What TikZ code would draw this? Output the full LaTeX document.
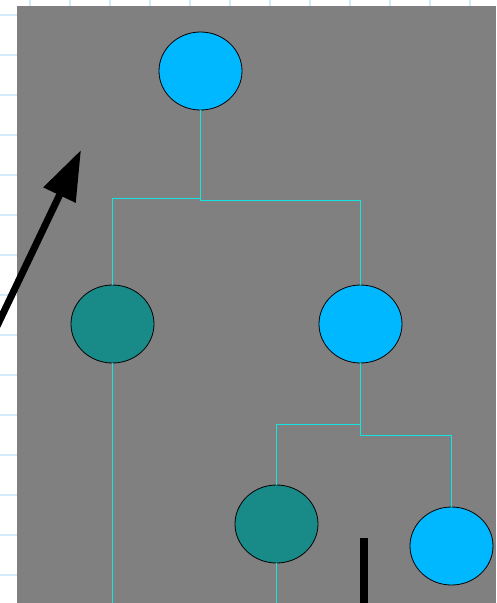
\documentclass[tikz,border=0pt]{standalone}
\usepackage{xcolor}
\usepackage{tikz}
\usetikzlibrary{shapes.geometric,arrows.meta}
\definecolor{gridblue}{RGB}{210,234,250}
\definecolor{panel}{RGB}{128,128,128}
\definecolor{sky}{RGB}{0,184,255}
\definecolor{deepteal}{RGB}{24,138,136}
\definecolor{wirecol}{RGB}{20,228,228}
\tikzset{
  blob/.style={ellipse,draw=black,line width=0.8pt,minimum width=83pt,minimum height=78pt,inner sep=0pt},
  wire/.style={draw=wirecol,line width=1.1pt},
}
\begin{document}
\begin{tikzpicture}[x=1pt,y=-1pt]
				\useasboundingbox (0,0) rectangle (496,603);
				\fill[white] (0,0) rectangle (496,603);
				\foreach \i in {0,...,11} \draw[gridblue,line width=1.8pt] (30+40*\i,0) -- (30+40*\i,603);
				\foreach \j in {0,...,14} \draw[gridblue,line width=1.8pt] (0,15+40*\j) -- (496,15+40*\j);
				\fill[panel] (17,6) rectangle (496,603);
				\node[blob,fill=sky] (root) at (200.5, 71) {};
				\node[blob,fill=deepteal] (lt) at (112.5, 324) {};
				\node[blob,fill=sky] (rt) at (360.5, 324) {};
				\node[blob,fill=deepteal] (rlt) at (276.5, 524) {};
				\node[blob,fill=sky] (rrt) at (451.5, 546) {};
				\coordinate (j0) at (200.5, 200.5);
				\coordinate (j1) at (200.5, 198.5);
				\coordinate (j2) at (360.5, 424.5);
				\coordinate (j3) at (360.5, 435.5);
				\coordinate (e1) at (112.5, 603);
				\coordinate (e2) at (276.5, 603);
				\draw[wire] (root.south) -- (j0) -| (rt.north);
				\draw[wire] (j1) -| (lt.north);
				\draw[wire] (rt.south) -- (j3) -| (rrt.north);
				\draw[wire] (j2) -| (rlt.north);
				\draw[wire] (lt.south) -- (e1);
				\draw[wire] (rlt.south) -- (e2);
				\coordinate (tail) at (-12, 345);
				\coordinate (tip) at (81, 150);
				\draw[line width=7pt,-{Triangle[length=50pt,width=34pt]}] (tail) -- (tip);
				\fill[black] (360, 538) rectangle (368, 603);
		\end{tikzpicture}
\end{document}
